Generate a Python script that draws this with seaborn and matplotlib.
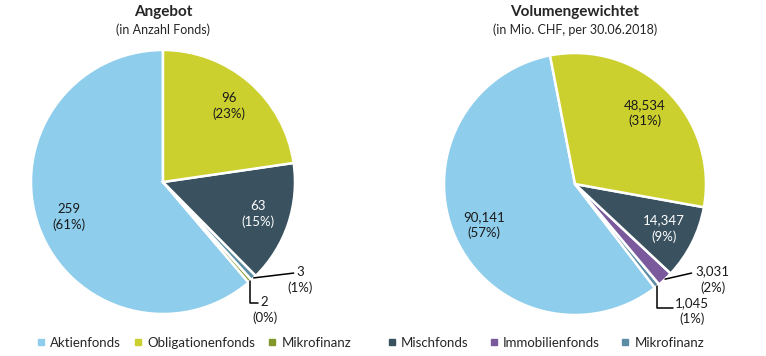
import numpy as np
import matplotlib
matplotlib.use("Agg")
import matplotlib.pyplot as plt
import seaborn as sns
from matplotlib.lines import Line2D

# Data ---------------------------------------------------------------
left_values = [259, 2, 3, 63, 96]
left_keys = ["akt", "mik1", "mik2", "misch", "oblig"]

right_values = [90141, 1045, 3031, 14347, 48534]
right_keys = ["akt", "mik2", "immo", "misch", "oblig"]

legend_keys = ["akt", "oblig", "mik1", "misch", "immo", "mik2"]
legend_labels = ["Aktienfonds", "Obligationenfonds", "Mikrofinanz",
                 "Mischfonds", "Immobilienfonds", "Mikrofinanz"]

titles = ["Angebot", "Volumengewichtet"]
subtitles = ["(in Anzahl Fonds)", "(in Mio. CHF, per 30.06.2018)"]

# Style --------------------------------------------------------------
colors = {
    "akt": "#8ECDEB",
    "oblig": "#CBD02E",
    "mik1": "#83982A",
    "misch": "#3A5260",
    "immo": "#7A5A9C",
    "mik2": "#5B8DA6",
}
text_col = {"misch": "white"}

sns.set_theme(style="white")
plt.rcParams["font.family"] = ["Lato", "DejaVu Sans"]

W, H = 766, 356
fig = plt.figure(figsize=(W / 100, H / 100), dpi=100)


def pie_axes(cx, cy, r):
    half = 1.25 * r
    return fig.add_axes([(cx - half) / W, (H - cy - half) / H, 2 * half / W, 2 * half / H])


def fmt(v, total):
    return f"{v:,}\n({round(100 * v / total):.0f}%)"


# small slices: wedge index -> (text centre, line end, kind)
leaders = {
    "left": {1: ((0.77, -0.97), (0.72, -0.92), "elbow"),
             2: ((1.04, -0.74), (0.99, -0.69), "straight")},
    "right": {1: ((0.89, -0.97), (0.75, -0.95), "elbow"),
              2: ((1.05, -0.73), (0.89, -0.68), "straight")},
}

specs = [
    ("left", left_values, left_keys, 163, 182, 132, 90),
    ("right", right_values, right_keys, 575, 184, 131, 101),
]

for i, (side, vals, keys, cx, cy, r, start) in enumerate(specs):
    ax = pie_axes(cx, cy, r)
    wedges, _ = ax.pie(vals, colors=[colors[k] for k in keys], startangle=start,
                       counterclock=True, radius=1,
                       wedgeprops=dict(edgecolor="white", linewidth=1.8))
    total = sum(vals)
    for j, w in enumerate(wedges):
        mid = np.deg2rad((w.theta1 + w.theta2) / 2)
        label = fmt(vals[j], total)
        if j in leaders[side]:
            (tx, ty), end, kind = leaders[side][j]
            pt = (np.cos(mid), np.sin(mid))
            cs = "arc3,rad=0" if kind == "straight" else "angle,angleA=0,angleB=90,rad=0"
            ax.annotate("", xy=pt, xytext=end, annotation_clip=False,
                        arrowprops=dict(arrowstyle="-", color="black", lw=1.1,
                                        shrinkA=0, shrinkB=0, connectionstyle=cs))
            ax.text(tx, ty, label, ha="center", va="center", fontsize=9.5,
                    color="#1a1a1a", linespacing=1.35)
        else:
            d = 0.76
            ax.text(d * np.cos(mid), d * np.sin(mid), label, ha="center", va="center",
                    fontsize=9.5, linespacing=1.35,
                    color=text_col.get(keys[j], "#1a1a1a"))
    ax.set_xlim(-1.25, 1.25)
    ax.set_ylim(-1.25, 1.25)
    ax.axis("off")

    fig.text(cx / W, 1 - 12 / H, titles[i], ha="center", va="center",
             fontsize=11, fontweight="bold")
    fig.text(cx / W, 1 - 30 / H, subtitles[i], ha="center", va="center", fontsize=9)

# Legend ---------------------------------------------------------------
handles = [Line2D([0], [0], marker="s", linestyle="", markersize=4.5,
                  markerfacecolor=colors[k], markeredgecolor=colors[k])
           for k in legend_keys]

fig.legend(handles[:3], legend_labels[:3], loc="center left",
           bbox_to_anchor=(37 / W, 1 - 343 / H), ncol=3, frameon=False,
           fontsize=9.5, handlelength=0.6, handletextpad=0.4,
           columnspacing=1.0, borderaxespad=0, borderpad=0)
fig.legend(handles[3:], legend_labels[3:], loc="center left",
           bbox_to_anchor=(388 / W, 1 - 343 / H), ncol=3, frameon=False,
           fontsize=9.5, handlelength=0.6, handletextpad=0.4,
           columnspacing=1.6, borderaxespad=0, borderpad=0)

fig.savefig("out.png", dpi=100, facecolor="white")
